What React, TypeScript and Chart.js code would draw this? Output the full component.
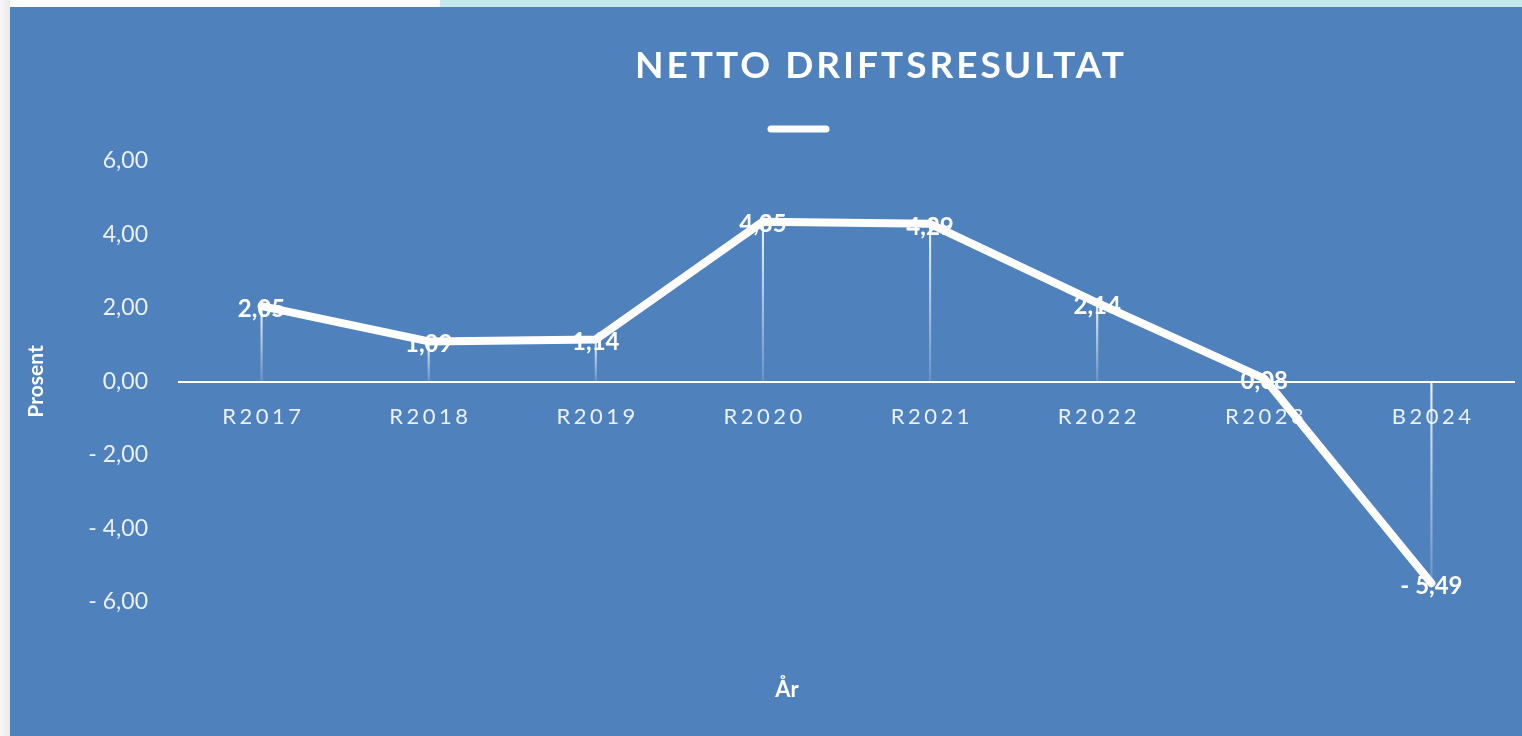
import { useEffect, useRef } from "react";
import { Chart, registerables } from "chart.js";

Chart.register(...registerables);

const categories = ["R2017", "R2018", "R2019", "R2020", "R2021", "R2022", "R2023", "B2024"];
const values = [2.05, 1.09, 1.14, 4.35, 4.29, 2.14, 0.08, -5.49];
const yTicks = [6, 4, 2, 0, -2, -4, -6];
const chartTitle = "NETTO DRIFTSRESULTAT";
const yTitle = "Prosent";
const xTitle = "År";

const FONT = "Lato, 'Open Sans', sans-serif";

const fmt = (v: number) => {
  const s = Math.abs(v).toFixed(2).replace(".", ",");
  return v < 0 ? "- " + s : s;
};

const overlay = {
  id: "overlay",
  beforeDatasetsDraw(chart: any) {
    const { ctx } = chart;
    const xs = chart.scales.x;
    const ys = chart.scales.y;
    const y0 = ys.getPixelForValue(0);
    ctx.save();
    ctx.fillStyle = "rgba(255,255,255,0.88)";
    ctx.font = `22px ${FONT}`;
    (ctx as any).letterSpacing = "3.5px";
    ctx.textAlign = "center";
    ctx.textBaseline = "middle";
    categories.forEach((c, i) => {
      ctx.fillText(c, xs.getPixelForValue(i) + 1.75, y0 + 35);
    });
    ctx.restore();
  },
  afterDatasetsDraw(chart: any) {
    const { ctx } = chart;
    const meta = chart.getDatasetMeta(1);
    ctx.save();
    ctx.fillStyle = "#ffffff";
    ctx.font = `bold 24px ${FONT}`;
    ctx.textAlign = "center";
    ctx.textBaseline = "middle";
    meta.data.forEach((pt: any, i: number) => {
      ctx.fillText(fmt(values[i]), pt.x, pt.y + 3);
    });
    ctx.restore();
  },
  afterDraw(chart: any) {
    const { ctx } = chart;
    ctx.save();
    ctx.fillStyle = "#ffffff";
    ctx.font = `bold 37px ${FONT}`;
    (ctx as any).letterSpacing = "3px";
    ctx.textAlign = "center";
    ctx.textBaseline = "middle";
    ctx.fillText(chartTitle, 871, 59);
    (ctx as any).letterSpacing = "0px";
    ctx.strokeStyle = "#ffffff";
    ctx.lineWidth = 7;
    ctx.lineCap = "round";
    ctx.beginPath();
    ctx.moveTo(761, 122);
    ctx.lineTo(816, 122);
    ctx.stroke();
    ctx.font = `bold 22px ${FONT}`;
    ctx.fillText(xTitle, 777, 683);
    ctx.restore();
  },
};

export default function App() {
  const ref = useRef<HTMLCanvasElement | null>(null);

  useEffect(() => {
    if (!ref.current) return;
    const chart = new Chart(ref.current, {
      data: {
        labels: categories,
        datasets: [
          {
            type: "bar",
            label: "drop",
            data: values,
            order: 2,
            barThickness: 1.5,
            backgroundColor: (c: any) => {
              const ch = c.chart;
              const ys = ch.scales?.y;
              if (!ch.chartArea || !ys) return "rgba(255,255,255,0.6)";
              const v = values[c.dataIndex] ?? 0;
              const a = ys.getPixelForValue(Math.max(v, 0));
              const b = ys.getPixelForValue(Math.min(v, 0));
              if (!isFinite(a) || !isFinite(b) || a === b) return "rgba(255,255,255,0.6)";
              const g = ch.ctx.createLinearGradient(0, a, 0, b);
              g.addColorStop(0, "rgba(255,255,255,0.9)");
              g.addColorStop(1, "rgba(255,255,255,0.15)");
              return g;
            },
            borderWidth: 0,
          },
          {
            type: "line",
            label: "",
            data: values,
            order: 0,
            borderColor: "#ffffff",
            borderWidth: 8,
            borderJoinStyle: "round",
            borderCapStyle: "round",
            pointRadius: 0,
            tension: 0,
            fill: false,
          },
        ],
      } as any,
      options: {
        responsive: true,
        maintainAspectRatio: false,
        animation: false,
        layout: { padding: { top: 154, bottom: 134, left: 0, right: 7 } },
        plugins: {
          legend: { display: false },
          title: { display: false },
          tooltip: { enabled: false },
        },
        scales: {
          x: {
            type: "category",
            position: { y: 0 } as any,
            offset: true,
            grid: { display: false, drawTicks: false },
            border: { display: false },
            ticks: { display: false },
          },
          y: {
            type: "linear",
            min: -6,
            max: 6,
            afterBuildTicks: (s: any) => {
              s.ticks = yTicks.map((v) => ({ value: v }));
            },
            afterFit: (s: any) => {
              s.width = 168;
            },
            grid: {
              drawTicks: false,
              color: (c: any) => (c.tick && c.tick.value === 0 ? "#ffffff" : "rgba(0,0,0,0)"),
              lineWidth: (c: any) => (c.tick && c.tick.value === 0 ? 2 : 0),
            },
            border: { display: false },
            ticks: {
              padding: 30,
              color: "rgba(255,255,255,0.88)",
              font: { family: FONT, size: 23 },
              callback: (v: any) => fmt(Number(v)),
            },
            title: {
              display: true,
              text: yTitle,
              color: "#ffffff",
              font: { family: FONT, size: 21, weight: "bold" },
              padding: { top: 14, bottom: 0 },
            },
          },
        },
      } as any,
      plugins: [overlay],
    });
    return () => chart.destroy();
  }, []);

  return (
    <div style={{ position: "fixed", left: 0, top: 0, width: 1522, height: 736, background: "#ffffff", overflow: "hidden" }}>
      <div style={{ position: "absolute", left: 0, top: 0, width: 10, height: 736, background: "linear-gradient(to right, #f7f7f7, #e9e9e9)" }} />
      <div style={{ position: "absolute", left: 440, top: 0, width: 1082, height: 7, background: "#c7e8eb" }} />
      <div style={{ position: "absolute", left: 10, top: 7, width: 1512, height: 729, background: "#4f81bd" }}>
        <canvas ref={ref} />
      </div>
    </div>
  );
}
